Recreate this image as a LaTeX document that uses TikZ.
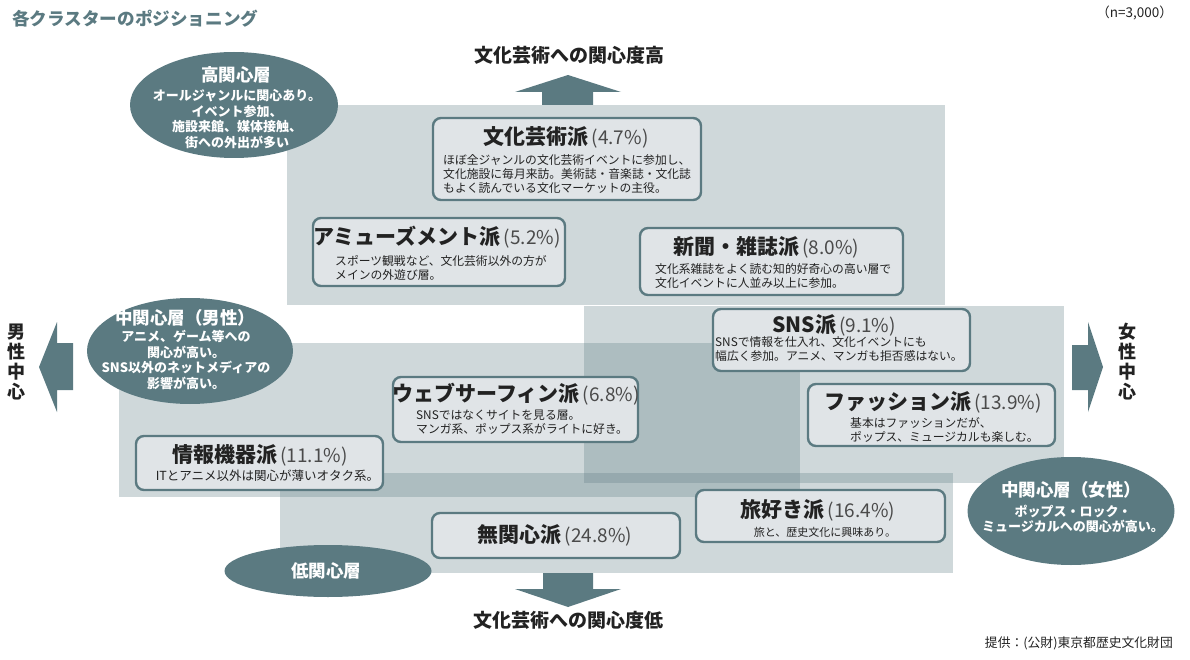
\documentclass[tikz,border=0pt]{standalone}
\usepackage{fontspec}
\setmainfont{Noto Sans CJK JP}
\usetikzlibrary{shapes.geometric}
\definecolor{teal0}{HTML}{5B7A81}
\definecolor{boxfill}{HTML}{E0E4E7}
\definecolor{ink}{HTML}{222222}
\definecolor{pctc}{HTML}{4A4A4A}
\newcommand\pctx[1]{{\mdseries\color{pctc}\fontsize{19}{22}\selectfont\,#1}}
\tikzset{
  band/.style={fill=teal0, fill opacity=0.29, draw=none},
  grp/.style={ellipse, fill=teal0, draw=none, inner sep=0pt},
  grptitle/.style={text=white, font=\bfseries\fontsize{17.5}{20}\selectfont, inner sep=0pt},
  grpbody/.style={text=white, font=\bfseries\fontsize{13}{15.5}\selectfont, align=center, inner sep=0pt},
  cbox/.style={draw=teal0, line width=2.4pt, rounded corners=8pt, fill=boxfill, inner sep=0pt},
  ctitle/.style={text=ink, font=\bfseries\fontsize{21}{24}\selectfont, inner sep=0pt},
  cbody/.style={text=ink, font=\fontsize{11.8}{14}\selectfont, align=left, inner sep=0pt, anchor=west},
  axislbl/.style={text=ink, font=\bfseries\fontsize{19}{22}\selectfont, inner sep=0pt},
  vertlbl/.style={text=ink, font=\bfseries\fontsize{18}{20}\selectfont, align=center, inner sep=0pt},
  blockarrow/.style={fill=teal0, draw=none},
}
\begin{document}
\begin{tikzpicture}[x=1pt,y=-1pt]
\useasboundingbox (0,0) rectangle (1190,660);
% background bands
\fill[band] (287,105) rectangle (945,305);
\fill[band] (584,306) rectangle (1064,483);
\fill[band] (119,343) rectangle (800,497);
\fill[band] (280,473) rectangle (953,573);
% block arrows
\fill[blockarrow] (542,105) -- (542,92) -- (515,92) -- (568,75) -- (621,92) -- (593,92) -- (593,105) -- cycle;
\fill[blockarrow] (543,573) -- (593,573) -- (593,589) -- (621,589) -- (568,607) -- (515,589) -- (543,589) -- cycle;
\fill[blockarrow] (73,343) -- (57,343) -- (57,322) -- (39,367) -- (57,412) -- (57,390) -- (73,390) -- cycle;
\fill[blockarrow] (1072,345) -- (1088,345) -- (1088,322) -- (1103,367) -- (1088,412) -- (1088,390) -- (1072,390) -- cycle;
% header texts
\node[inner sep=0pt, anchor=west, text=teal0, font=\bfseries\fontsize{17.6}{20}\selectfont] (ttl) at (12,19) {各クラスターのポジショニング};
\node[inner sep=0pt, anchor=east, text=ink, font=\fontsize{13.5}{15}\selectfont] (nval) at (1173,13) {（n=3,000）};
\node[axislbl] (hi) at (569,55) {文化芸術への関心度高};
\node[axislbl] (lo) at (568,620) {文化芸術への関心度低};
\node[vertlbl] (male) at (17,362) {男\\性\\中\\心};
\node[vertlbl] (female) at (1127,362) {女\\性\\中\\心};
\node[inner sep=0pt, anchor=east, text=ink, font=\fontsize{12.8}{15}\selectfont] (src) at (1173,643) {提供：(公財)東京都歴史文化財団};
% group ellipses
\node[grp, minimum width=208pt, minimum height=106pt] (gHigh) at (234,105) {};
\node[grptitle] (gHighT) at (236,75) {高関心層};
\node[grpbody] (gHighB) at (237,119) {オールジャンルに関心あり。\\イベント参加、\\施設来館、媒体接触、\\街への外出が多い};
\node[grp, minimum width=206pt, minimum height=106pt] (gMale) at (190,351) {};
\node[grptitle] (gMaleT) at (185,318) {中関心層（男性）};
\node[grpbody] (gMaleB) at (186,360) {アニメ、ゲーム等への\\関心が高い。\\SNS以外のネットメディアの\\影響が高い。};
\node[grp, minimum width=207pt, minimum height=108pt] (gFem) at (1071,511) {};
\node[grptitle] (gFemT) at (1071,490) {中関心層（女性）};
\node[grpbody] (gFemB) at (1073,519) {ポップス・ロック・\\ミュージカルへの関心が高い。};
\node[grp, minimum width=207pt, minimum height=52pt] (gLow) at (328,571) {};
\node[grptitle] (gLowT) at (326,571) {低関心層};
% cluster boxes
\node[cbox, minimum width=268pt, minimum height=82pt] (bunka) at (567,159) {};
\node[ctitle] (bunkaT) at (566,137) {文化芸術派\pctx{(4.7\%)}};
\node[cbody] (bunkaB) at (443,174) {ほぼ全ジャンルの文化芸術イベントに参加し、\\文化施設に毎月来訪。美術誌・音楽誌・文化誌\\もよく読んでいる文化マーケットの主役。};
\node[cbox, minimum width=252pt, minimum height=68pt] (amuse) at (439,252) {};
\node[ctitle] (amuseT) at (437,237) {アミューズメント派\pctx{(5.2\%)}};
\node[cbody] (amuseB) at (335,268) {スポーツ観戦など、文化芸術以外の方が\\メインの外遊び層。};
\node[cbox, minimum width=263pt, minimum height=67pt] (shinbun) at (771.5,261.5) {};
\node[ctitle] (shinbunT) at (766,247) {新聞・雑誌派\pctx{(8.0\%)}};
\node[cbody] (shinbunB) at (655,276.5) {文化系雑誌をよく読む知的好奇心の高い層で\\文化イベントに人並み以上に参加。};
\node[cbox, minimum width=257pt, minimum height=62pt] (sns) at (841.5,340) {};
\node[ctitle] (snsT) at (834,325) {SNS派\pctx{(9.1\%)}};
\node[cbody] (snsB) at (715,349.5) {SNSで情報を仕入れ、文化イベントにも\\幅広く参加。アニメ、マンガも拒否感はない。};
\node[cbox, minimum width=247pt, minimum height=62pt] (fashion) at (931.5,415) {};
\node[ctitle] (fashionT) at (933,402) {ファッション派\pctx{(13.9\%)}};
\node[cbody] (fashionB) at (850,430) {基本はファッションだが、\\ポップス、ミュージカルも楽しむ。};
\node[cbox, minimum width=245pt, minimum height=65pt] (web) at (515.5,409.5) {};
\node[ctitle] (webT) at (516,394) {ウェブサーフィン派\pctx{(6.8\%)}};
\node[cbody] (webB) at (416,422) {SNSではなくサイトを見る層。\\マンガ系、ポップス系がライトに好き。};
\node[cbox, minimum width=247pt, minimum height=54pt] (joho) at (259.5,463) {};
\node[ctitle] (johoT) at (260,455) {情報機器派\pctx{(11.1\%)}};
\node[cbody, anchor=center, font=\fontsize{12.5}{14}\selectfont] (johoB) at (267.5,476) {ITとアニメ以外は関心が薄いオタク系。};
\node[cbox, minimum width=248pt, minimum height=45pt] (mukan) at (556,535.5) {};
\node[ctitle] (mukanT) at (555,535.5) {無関心派\pctx{(24.8\%)}};
\node[cbox, minimum width=249pt, minimum height=52pt] (tabi) at (820.5,516) {};
\node[ctitle] (tabiT) at (818,510) {旅好き派\pctx{(16.4\%)}};
\node[cbody, anchor=center, font=\fontsize{11}{13}\selectfont] (tabiB) at (825,532) {旅と、歴史文化に興味あり。};
\end{tikzpicture}
\end{document}
